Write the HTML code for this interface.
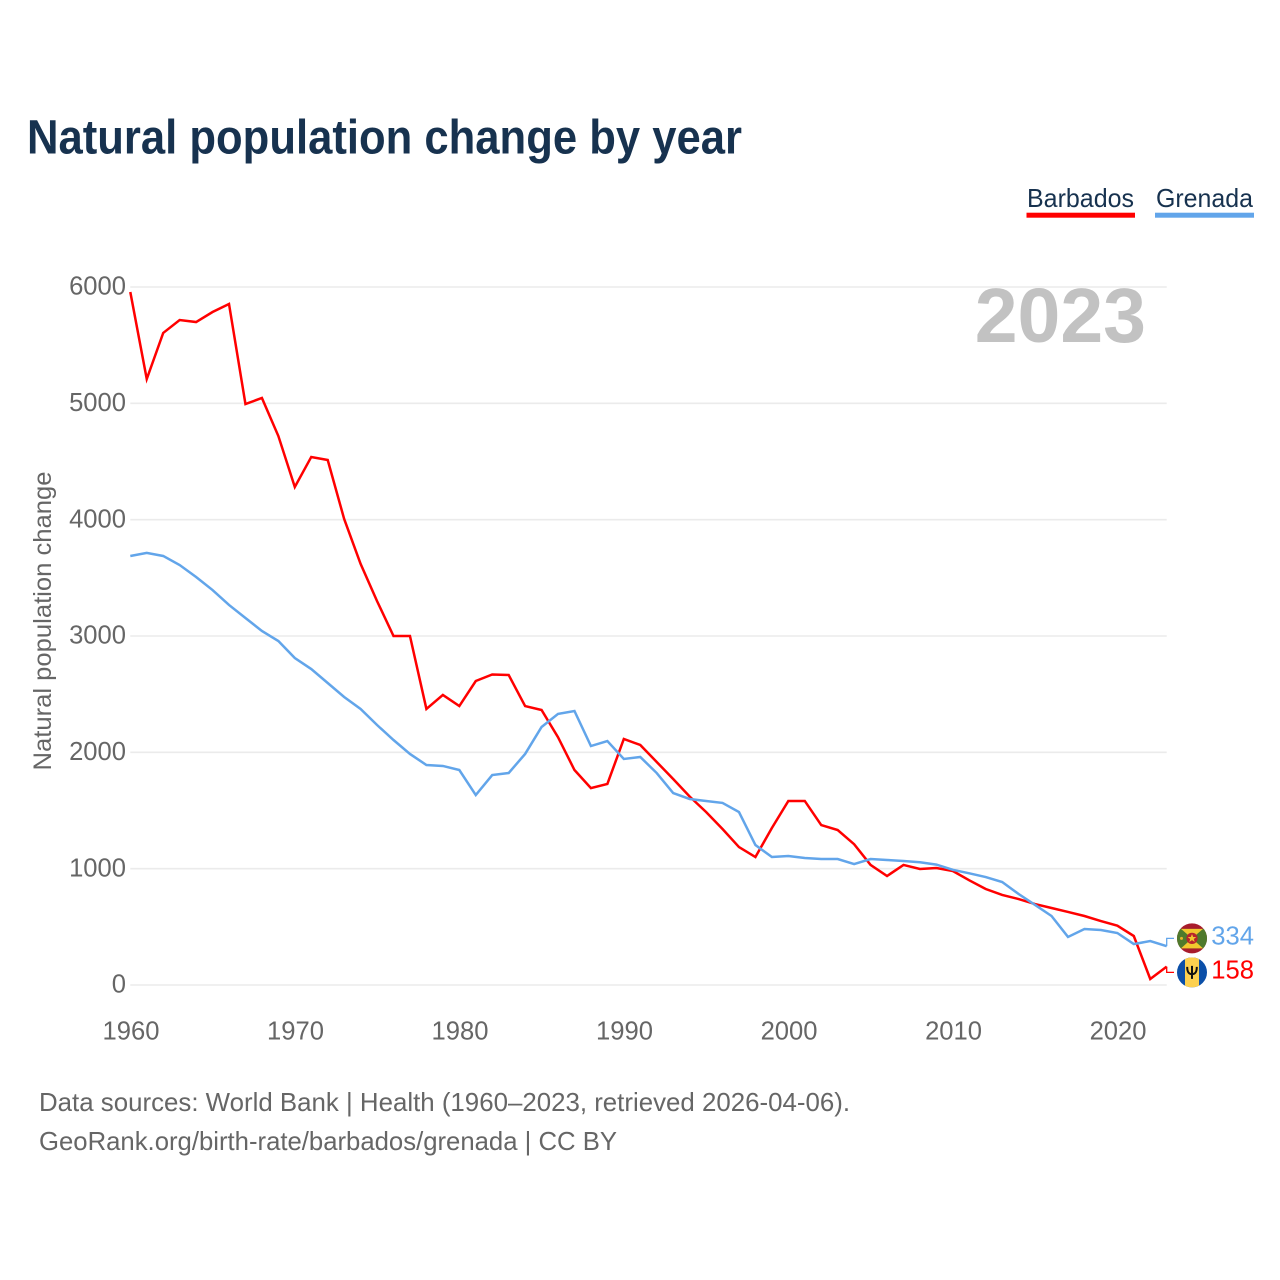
<!DOCTYPE html>
<html lang="en">
<head>
<meta charset="utf-8">
<title>Natural population change by year</title>
<style>
html,body{margin:0;padding:0;background:#fff;}
svg{display:block;font-family:"Liberation Sans",sans-serif;}
</style>
</head>
<body>
<svg id="chart" xmlns="http://www.w3.org/2000/svg" width="1280" height="1280" viewBox="0 0 1280 1280">
  <text x="27" y="153.5" font-size="48" font-weight="700" fill="#17324f" textLength="715" lengthAdjust="spacingAndGlyphs">Natural population change by year</text>
  <g>
    <g>
      <text x="1027" y="207" font-size="26" fill="#17324f" textLength="107" lengthAdjust="spacingAndGlyphs">Barbados</text>
      <rect x="1026.5" y="212.7" width="108.5" height="5" fill="#ff0000"/>
    </g>
    <g>
      <text x="1156" y="207" font-size="26" fill="#17324f" textLength="97" lengthAdjust="spacingAndGlyphs">Grenada</text>
      <rect x="1155" y="212.7" width="99" height="5" fill="#62a5ea"/>
    </g>
  </g>
  <g id="grid"></g>
  <g id="yAxis"></g>
  <g id="xAxis"></g>
  <text transform="translate(51,621) rotate(-90)" text-anchor="middle" font-size="25" fill="#666666" textLength="299" lengthAdjust="spacingAndGlyphs">Natural population change</text>
  <text x="1146" y="342" text-anchor="end" font-size="77" font-weight="700" fill="#c2c2c2">2023</text>
  <g id="series"></g>
  <g id="endLabels"></g>
  <g>
    <text x="39" y="1111" font-size="26" fill="#666666" textLength="811" lengthAdjust="spacingAndGlyphs">Data sources: World Bank | Health (1960–2023, retrieved 2026-04-06).</text>
    <text x="39" y="1150" font-size="26" fill="#666666" textLength="578" lengthAdjust="spacingAndGlyphs">GeoRank.org/birth-rate/barbados/grenada | CC BY</text>
  </g>
</svg>
<script>
const firstYear = 1960;
const lastYear = 2023;
const xTickYears = [1960, 1970, 1980, 1990, 2000, 2010, 2020];
const yTickValues = [0, 1000, 2000, 3000, 4000, 5000, 6000];
const barbadosValues = [
  5957, 5209, 5605, 5716, 5699, 5785, 5854, 4994, 5046, 4719,
  4281, 4539, 4513, 4006, 3620, 3300, 3000, 3000, 2373, 2493,
  2398, 2613, 2669, 2665, 2398, 2364, 2130, 1848, 1693, 1728,
  2115, 2063, 1917, 1771, 1620, 1487, 1341, 1186, 1100, 1350,
  1582, 1582, 1375, 1332, 1210, 1032, 937, 1032, 997, 1006,
  980, 900, 825, 774, 739, 696, 662, 628, 593, 550,
  510, 421, 52, 158
];
const grenadaValues = [
  3688, 3714, 3688, 3610, 3507, 3395, 3267, 3155, 3043, 2957,
  2811, 2716, 2596, 2476, 2373, 2235, 2106, 1986, 1891, 1883,
  1848, 1633, 1805, 1822, 1986, 2218, 2330, 2355, 2054, 2097,
  1943, 1960, 1822, 1650, 1599, 1582, 1565, 1487, 1203, 1100,
  1109, 1092, 1083, 1083, 1040, 1083, 1075, 1066, 1055, 1035,
  990, 960, 928, 885, 782, 688, 593, 413, 481, 473,
  447, 352, 378, 334
];

const SVG_NS = 'http://www.w3.org/2000/svg';
const plot = { left: 130.3, right: 1166.7, top: 287, bottom: 985 };
const valueMax = 6000;
const tickLabelNudge = 0.7;

function xScale(year) {
  return plot.left + (year - firstYear) / (lastYear - firstYear) * (plot.right - plot.left);
}
function yScale(value) {
  return plot.bottom - value / valueMax * (plot.bottom - plot.top);
}
function make(tag, parent, attrs) {
  const node = document.createElementNS(SVG_NS, tag);
  for (const key in attrs) node.setAttribute(key, attrs[key]);
  parent.appendChild(node);
  return node;
}

const gridGroup = document.getElementById('grid');
const yAxisGroup = document.getElementById('yAxis');
const xAxisGroup = document.getElementById('xAxis');
const seriesGroup = document.getElementById('series');
const endGroup = document.getElementById('endLabels');

yTickValues.forEach(function (tick) {
  const line = make('line', gridGroup, { x1: plot.left, x2: plot.right, y1: yScale(tick), y2: yScale(tick), stroke: '#ebebeb', 'stroke-width': 1.6 });
  
  
  const label = make('text', yAxisGroup, { x: 126, y: yScale(tick) + 7.6, 'text-anchor': 'end', 'font-size': 25.6, fill: '#666666' });
  label.textContent = String(tick);
  
  
});

xTickYears.forEach(function (year) {
  const label = make('text', xAxisGroup, { x: xScale(year) + tickLabelNudge, y: 1039.5, 'text-anchor': 'middle', 'font-size': 25.6, fill: '#666666' });
  label.textContent = String(year);
  
  
});

function linePoints(values) {
  return values.map(function (value, i) {
    return xScale(firstYear + i).toFixed(2) + ',' + yScale(value).toFixed(2);
  }).join(' ');
}

const barbadosLine = make('polyline', seriesGroup, { points: linePoints(barbadosValues), fill: 'none', stroke: '#ff0000', 'stroke-width': 2.5, 'stroke-linejoin': 'miter' });



const grenadaLine = make('polyline', seriesGroup, { points: linePoints(grenadaValues), fill: 'none', stroke: '#62a5ea', 'stroke-width': 2.5, 'stroke-linejoin': 'miter' });



/* End labels: anchored to the final value, pushed apart so the flags never overlap */
const grenadaLast = grenadaValues[grenadaValues.length - 1];
const barbadosLast = barbadosValues[barbadosValues.length - 1];
const labelGap = 34;
const yGrenadaEnd = yScale(grenadaLast);
const yBarbadosEnd = yScale(barbadosLast);
const labelMid = (yGrenadaEnd + yBarbadosEnd) / 2;
const spread = Math.max(labelGap, Math.abs(yBarbadosEnd - yGrenadaEnd));
const grenadaIsAbove = yGrenadaEnd <= yBarbadosEnd;
const yGrenadaLabel = labelMid + (grenadaIsAbove ? -spread / 2 : spread / 2) - 1;
const yBarbadosLabel = labelMid + (grenadaIsAbove ? spread / 2 : -spread / 2) - 1;

const grenadaConnector = make('polyline', endGroup, { points: plot.right + ',' + yGrenadaEnd + ' ' + plot.right + ',' + yGrenadaLabel + ' 1174,' + yGrenadaLabel, fill: 'none', stroke: '#62a5ea', 'stroke-width': 1.3 });



const barbadosConnector = make('polyline', endGroup, { points: plot.right + ',' + yBarbadosEnd + ' ' + plot.right + ',' + yBarbadosLabel + ' 1174,' + yBarbadosLabel, fill: 'none', stroke: '#ff0000', 'stroke-width': 1.3 });



/* Grenada flag */
const flagG = make('g', endGroup, { transform: 'translate(1192,' + yGrenadaLabel + ')' });


make('circle', flagG, { r: 15, fill: '#a81c2c' });
const flagGClip = make('clipPath', flagG, { id: 'gClip' });
make('circle', flagGClip, { r: 15 });
const flagGInner = make('g', flagG, { 'clip-path': 'url(#gClip)' });
make('rect', flagGInner, { x: -15, y: -9.5, width: 30, height: 19.5, fill: '#4f7a2c' });
make('polygon', flagGInner, { points: '-11,-9.5 11,-9.5 0,0', fill: '#f2c82e' });
make('polygon', flagGInner, { points: '-11,10 11,10 0,0', fill: '#f2c82e' });
make('circle', flagGInner, { r: 5.6, fill: '#b8242c' });
make('polygon', flagGInner, { points: '0,-4.4 1.2,-1.4 4.3,-1.4 1.8,0.6 2.7,3.6 0,1.8 -2.7,3.6 -1.8,0.6 -4.3,-1.4 -1.2,-1.4', fill: '#f2c82e' });
make('circle', flagGInner, { cx: -10.5, cy: 0, r: 1.5, fill: '#e9b42a' });

/* Barbados flag */
const flagB = make('g', endGroup, { transform: 'translate(1192,' + yBarbadosLabel + ')' });


const flagBClip = make('clipPath', flagB, { id: 'bClip' });
make('circle', flagBClip, { r: 15 });
const flagBInner = make('g', flagB, { 'clip-path': 'url(#bClip)' });
make('rect', flagBInner, { x: -15, y: -15, width: 30, height: 30, fill: '#0b4fa8' });
make('rect', flagBInner, { x: -7, y: -15, width: 14, height: 30, fill: '#fcd04f' });
make('path', flagBInner, { d: 'M-4.8,-5.5 C-4.8,0 -3,1.8 0,1.8 C3,1.8 4.8,0 4.8,-5.5 M0,-6.5 V6.5', fill: 'none', stroke: '#111111', 'stroke-width': 2 });

const grenadaValueLabel = make('text', endGroup, { x: 1254, y: yGrenadaLabel + 6.2, 'text-anchor': 'end', 'font-size': 25.6, fill: '#62a5ea' });
grenadaValueLabel.textContent = String(grenadaLast);



const barbadosValueLabel = make('text', endGroup, { x: 1254, y: yBarbadosLabel + 6.2, 'text-anchor': 'end', 'font-size': 25.6, fill: '#ff0000' });
barbadosValueLabel.textContent = String(barbadosLast);


</script>
</body>
</html>
